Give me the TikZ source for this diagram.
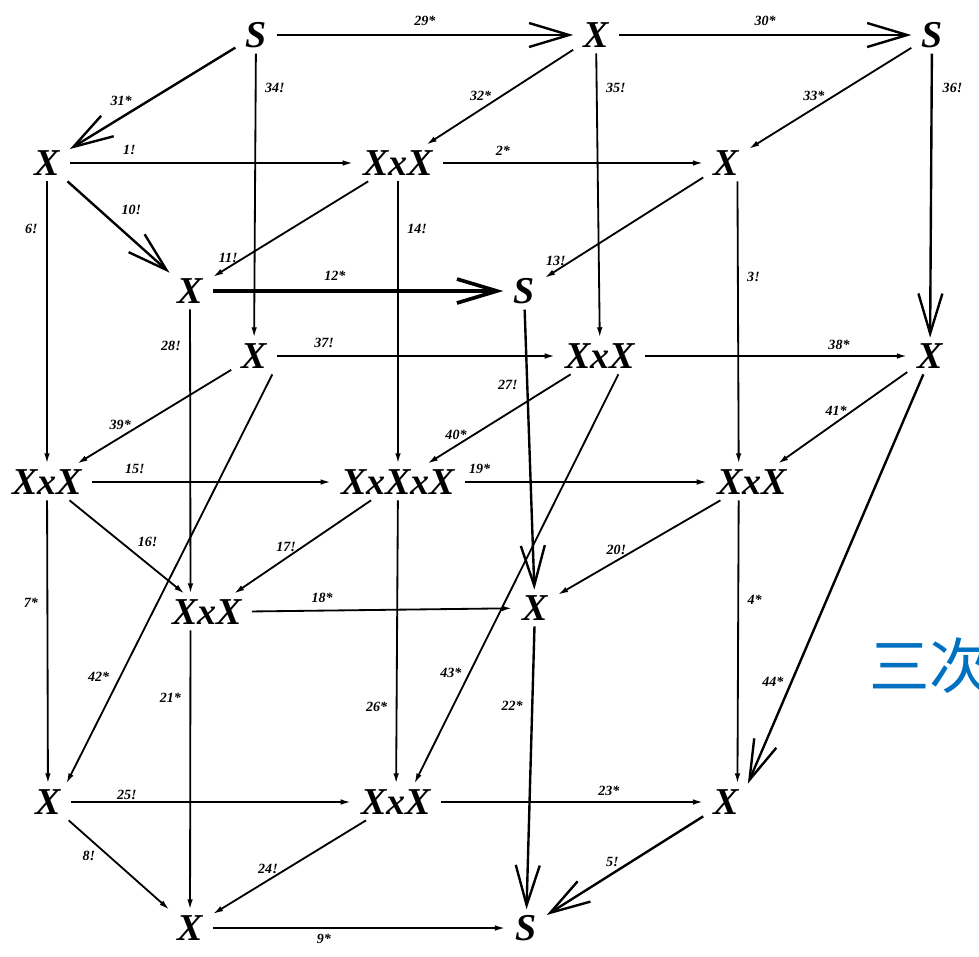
\documentclass[tikz,border=0pt]{standalone}
\usepackage{fontspec}
\setmainfont{Liberation Serif}
\newfontfamily\cjkfont{Noto Sans CJK SC}
\usepackage{xcolor}
\usetikzlibrary{arrows.meta}
\definecolor{titleblue}{RGB}{0,112,192}
\tikzset{
  cubenode/.style={
    inner xsep=7pt,
    inner ysep=4pt,
    font=\fontsize{27}{29}\selectfont\bfseries\itshape
  },
  cubearrow/.style={
    -{Latex[length=2.6mm,width=1.4mm]},
    line width=1.3pt
  },
  cubebig/.style={
    -{Straight Barb[length=10mm,width=6mm]},
    line width=1.7pt
  },
  edgelabel/.style={
    font=\fontsize{10}{11}\selectfont\bfseries\itshape,
    inner sep=1pt
  }
}

\begin{document}
\begin{tikzpicture}[x=0.025cm,y=-0.025cm]
\useasboundingbox (0,0) rectangle (979,956);
% back layer
\node[cubenode] (sA) at (256,35) {S};
\node[cubenode] (xB) at (596,35) {X};
\node[cubenode] (sC) at (932,35) {S};
\node[cubenode] (xD) at (254,356) {X};
\node[cubenode] (xxE) at (600,356) {XxX};
\node[cubenode] (xF) at (930,356) {X};
% middle layer
\node[cubenode] (x1) at (47,163) {X};
\node[cubenode] (xx2) at (398,163) {XxX};
\node[cubenode] (x3) at (726,163) {X};
\node[cubenode] (xx4) at (47,482) {XxX};
\node[cubenode] (xxxx5) at (398,482) {XxXxX};
\node[cubenode] (xx6) at (752,482) {XxX};
\node[cubenode] (x7) at (48,802) {X};
\node[cubenode] (xx8) at (396,802) {XxX};
\node[cubenode] (x9) at (726,802) {X};
% front layer
\node[cubenode] (xa) at (190,291) {X};
\node[cubenode] (sb) at (524,291) {S};
\node[cubenode] (xxc) at (207,612) {XxX};
\node[cubenode] (xd) at (535,608) {X};
\node[cubenode] (xe) at (190,928) {X};
\node[cubenode] (sf) at (526,928) {S};

\node[anchor=west, inner sep=0pt, text=titleblue, font=\cjkfont\fontsize{43}{45}\selectfont] (sanci) at (869,666) {三次};

% back layer edges
\draw[cubebig] (sA) -- node[edgelabel, above=5pt, pos=.5] {29*} (xB);
\draw[cubebig] (xB) -- node[edgelabel, above=5pt, pos=.5] {30*} (sC);
\draw[cubebig] (sA) -- node[edgelabel, above=7pt, pos=.69] {31*} (x1);
\draw[cubearrow] (sA) -- node[edgelabel, right=5pt, pos=.12] {34!} (xD);
\draw[cubearrow] (xB) -- node[edgelabel, above=5pt, pos=.63] {32*} (xx2);
\draw[cubearrow] (xB) -- node[edgelabel, right=5pt, pos=.12] {35!} (xxE);
\draw[cubearrow] (sC) -- node[edgelabel, above=4pt, pos=.6] {33*} (x3);
\draw[cubebig] (sC) -- node[edgelabel, right=6pt, pos=.12] {36!} (xF);
\draw[cubearrow] (xD) -- node[edgelabel, above=4pt, pos=.17] {37!} (xxE);
\draw[cubearrow] (xxE) -- node[edgelabel, above=3pt, pos=.74] {38*} (xF);
\draw[cubearrow] (xD) -- node[edgelabel, above=4pt, pos=.72] {39*} (xx4);
\draw[cubearrow] (xxE) -- node[edgelabel, above=3pt, pos=.8] {40*} (xxxx5);
\draw[cubearrow] (xF) -- node[edgelabel, above=3pt, pos=.55] {41*} (xx6);
\draw[cubearrow] (xD.-45) -- node[edgelabel, left=6pt, pos=.74] {42*} (x7.45);
\draw[cubearrow] (xxE.-45) -- node[edgelabel, left=4pt, pos=.73] {43*} (xx8.45);
\draw[cubebig] (xF.-110) -- node[edgelabel, left=4pt, pos=.75] {44*} (x9.40);

% middle layer edges
\draw[cubearrow] (x1) -- node[edgelabel, above=4pt, pos=.21] {1!} (xx2);
\draw[cubearrow] (xx2) -- node[edgelabel, above=4pt, pos=.23] {2*} (x3);
\draw[cubebig] (x1) -- node[edgelabel, above right=4pt, pos=.45] {10!} (xa);
\draw[cubearrow] (x1) -- node[edgelabel, left=5pt, pos=.17] {6!} (xx4);
\draw[cubearrow] (xx2) -- node[edgelabel, above=2pt, pos=.9] {11!} (xa);
\draw[cubearrow] (xx2) -- node[edgelabel, right=5pt, pos=.17] {14!} (xxxx5);
\draw[cubearrow] (x3) -- node[edgelabel, above=2pt, pos=.93] {13!} (sb);
\draw[cubearrow] (x3.-58) -- node[edgelabel, right=5pt, pos=.34] {3!} (xx6.126);
\draw[cubearrow] (xx4) -- node[edgelabel, above=4pt, pos=.18] {15!} (xxxx5);
\draw[cubearrow] (xxxx5) -- node[edgelabel, above=4pt, pos=.06] {19*} (xx6);
\draw[cubearrow] (xx4) -- node[edgelabel, above right=2pt, pos=.55] {16!} (xxc);
\draw[cubearrow] (xxxx5) -- node[edgelabel, above=3pt, pos=.62] {17!} (xxc);
\draw[cubearrow] (xx6) -- node[edgelabel, above=3pt, pos=.64] {20!} (xd);
\draw[cubearrow] (xx4) -- node[edgelabel, left=5pt, pos=.36] {7*} (x7);
\draw[cubearrow] (xxxx5) -- node[edgelabel, left=5pt, pos=.73] {26*} (xx8);
\draw[cubearrow] (xx6.-126) -- node[edgelabel, right=5pt, pos=.35] {4*} (x9.58);
\draw[cubearrow] (x7) -- node[edgelabel, above=0pt, pos=.2] {25!} (xx8);
\draw[cubearrow] (xx8) -- node[edgelabel, above=3pt, pos=.64] {23*} (x9);
\draw[cubearrow] (x7) -- node[edgelabel, below left=1pt, pos=.3] {8!} (xe);
\draw[cubearrow] (xx8) -- node[edgelabel, above=3pt, pos=.64] {24!} (xe);
\draw[cubebig] (x9) -- node[edgelabel, above=3pt, pos=.58] {5!} (sf);

% front layer edges
\draw[cubebig, line width=2.6pt] (xa) -- node[edgelabel, above=5pt, pos=.42] {12*} (sb);
\draw[cubearrow] (xa) -- node[edgelabel, left=5pt, pos=.13] {28!} (xxc.132);
\draw[cubebig] (sb) -- node[edgelabel, left=5pt, pos=.27] {27!} (xd);
\draw[cubearrow] (xxc) -- node[edgelabel, above=4pt, pos=.27] {18*} (xd);
\draw[cubearrow] (xxc.-132) -- node[edgelabel, left=5pt, pos=.24] {21*} (xe);
\draw[cubebig] (xd) -- node[edgelabel, left=5pt, pos=.28] {22*} (sf);
\draw[cubearrow] (xe) -- node[edgelabel, below=3pt, pos=.38] {9*} (sf);
\end{tikzpicture}
\end{document}
